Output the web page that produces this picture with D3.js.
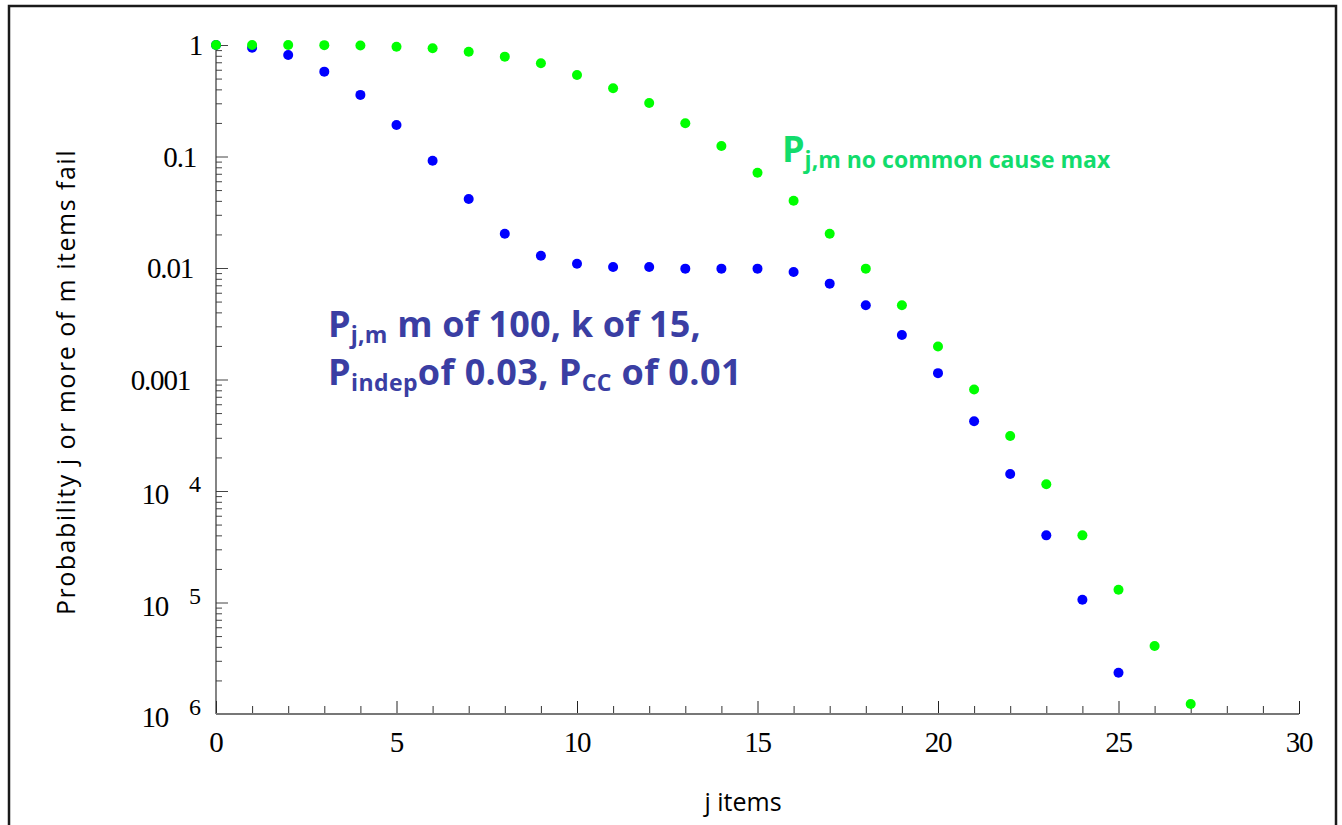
<!DOCTYPE html>
<html>
<head>
<meta charset="utf-8">
<script src="https://cdn.jsdelivr.net/npm/d3@7"></script>
<style>
  body { margin: 0; background: #fff; }
  svg { display: block; }
  .domain { display: none; }
</style>
</head>
<body>
<svg id="chart"></svg>
<script>
/** * * * * * DATA * * * * */
// j = number of failed items
const jBlue = [0, 1, 2, 3, 4, 5, 6, 7, 8, 9, 10, 11, 12, 13, 14, 15, 16, 17, 18, 19, 20, 21, 22, 23, 24, 25];
const pCommonCause = [1, 0.946, 0.814, 0.577, 0.357, 0.192, 0.0915, 0.0415, 0.0203, 0.0129, 0.0109,
  0.0102, 0.0102, 0.00987, 0.00987, 0.00987, 0.00922, 0.00724, 0.00463, 0.00251, 0.00114,
  0.000423, 0.000142, 4.0e-5, 1.06e-5, 2.34e-6];

const jGreen = [0, 1, 2, 3, 4, 5, 6, 7, 8, 9, 10, 11, 12, 13, 14, 15, 16, 17, 18, 19, 20, 21, 22, 23, 24, 25, 26, 27];
const pNoCommonCause = [1, 1, 0.999, 0.997, 0.99, 0.966, 0.934, 0.871, 0.786, 0.686, 0.539,
  0.410, 0.302, 0.199, 0.124, 0.0714, 0.0401, 0.0203, 0.00987, 0.00463, 0.00198,
  0.000814, 0.000311, 0.000115, 4.0e-5, 1.30e-5, 4.07e-6, 1.23e-6];

const xTicks = [0, 5, 10, 15, 20, 25, 30];
const xMinorTicks = [1, 2, 3, 4, 6, 7, 8, 9, 11, 12, 13, 14, 16, 17, 18, 19, 21, 22, 23, 24, 26, 27, 28, 29];
const yTicks = [1, 0.1, 0.01, 0.001, 1e-4, 1e-5, 1e-6];
const yTickMain = ['1', '0.1', '0.01', '0.001', '10', '10', '10'];
const yTickSup = ['', '', '', '', '4', '5', '6'];

/** * * * * * CONSTANTS * * * * */
const width = 1342;
const height = 825;
const plot = { left: 216, right: 1299, top: 45, bottom: 714 };
const serif = '"Liberation Serif", "Times New Roman", serif';
const sans = '"Open Sans", "Noto Sans", sans-serif';
const blueText = '#3a3ea3';
const greenText = '#12dc6c';

const svg = d3.select('#chart')
  .attr('width', width)
  .attr('height', height);

// outer frame
svg.append('rect')
  .attr('x', 9)
  .attr('y', 6)
  .attr('width', 1327)
  .attr('height', 900)
  .attr('fill', 'none')
  .attr('stroke', '#1a1a1a')
  .attr('stroke-width', 2.5);

// scales
let x = d3.scaleLinear().domain([0, 30]).range([plot.left, plot.right]);
let y = d3.scaleLog().domain([1e-6, 1]).range([plot.bottom, plot.top]);

let yMinor = [];
yTicks.slice(0, -1).forEach(function(t) {
  for (let k = 2; k <= 9; k++) yMinor.push(t * k / 10);
});

// axes: ticks point inwards
svg.append('g')
  .attr('transform', `translate(${plot.left},0)`)
  .call(d3.axisRight(y).tickValues(yTicks).tickSize(12).tickFormat(''))
  .selectAll('line').attr('stroke', '#444');
svg.append('g')
  .attr('transform', `translate(${plot.left},0)`)
  .call(d3.axisRight(y).tickValues(yMinor).tickSize(6).tickFormat(''))
  .selectAll('line').attr('stroke', '#444');

svg.append('g')
  .attr('transform', `translate(0,${plot.bottom})`)
  .call(d3.axisTop(x).tickValues(xTicks).tickSize(13).tickFormat(''))
  .selectAll('line').attr('stroke', '#222');
svg.append('g')
  .attr('transform', `translate(0,${plot.bottom})`)
  .call(d3.axisTop(x).tickValues(xMinorTicks).tickSize(8).tickFormat(''))
  .selectAll('line').attr('stroke', '#333');

// axis lines
svg.append('line')
  .attr('x1', plot.left).attr('x2', plot.left)
  .attr('y1', y(1)).attr('y2', y(1e-6))
  .attr('stroke', '#333').attr('stroke-width', 1.2);
svg.append('line')
  .attr('x1', plot.left).attr('x2', x(30))
  .attr('y1', plot.bottom).attr('y2', plot.bottom)
  .attr('stroke', '#777').attr('stroke-width', 2);

// y tick labels
yTicks.forEach(function(t, i) {
  if (yTickSup[i] === '') {
    svg.append('text')
      .attr('x', 205 - 3 * yTickMain[i].length)
      .attr('y', y(t) + 10)
      .attr('text-anchor', 'end')
      .style('font-family', serif)
      .style('font-size', '29px')
      .style('letter-spacing', '-1.2px')
      .text(yTickMain[i]);
  } else {
    svg.append('text')
      .attr('x', 168)
      .attr('y', y(t) + 13)
      .attr('text-anchor', 'end')
      .style('font-family', serif)
      .style('font-size', '29px')
      .style('letter-spacing', '-1.2px')
      .text(yTickMain[i]);
    svg.append('text')
      .attr('x', 189)
      .attr('y', y(t) + 1)
      .style('font-family', serif)
      .style('font-size', '24px')
      .text(yTickSup[i]);
  }
});

// x tick labels
svg.selectAll('.xlabel')
  .data(xTicks)
  .enter()
  .append('text')
  .attr('class', 'xlabel')
  .attr('x', function(d) { return x(d); })
  .attr('y', 752)
  .attr('text-anchor', 'middle')
  .style('font-family', serif)
  .style('font-size', '29px')
  .style('letter-spacing', '-1.2px')
  .text(function(d) { return d; });

// axis titles
svg.append('text')
  .attr('x', 743)
  .attr('y', 811)
  .attr('text-anchor', 'middle')
  .style('font-family', sans)
  .style('font-size', '25px')
  .text('j items');
svg.append('text')
  .attr('transform', 'translate(75,382) rotate(-90)')
  .attr('text-anchor', 'middle')
  .style('font-family', sans)
  .style('font-size', '25px')
  .style('letter-spacing', '1.5px')
  .text('Probability j or more of m items fail');

// points
svg.selectAll('.blue')
  .data(jBlue)
  .enter()
  .append('circle')
  .attr('class', 'blue')
  .attr('cx', function(d) { return x(d); })
  .attr('cy', function(d, i) { return y(pCommonCause[i]); })
  .attr('r', 5)
  .attr('fill', '#0000ff');

svg.selectAll('.green')
  .data(jGreen)
  .enter()
  .append('circle')
  .attr('class', 'green')
  .attr('cx', function(d) { return x(d); })
  .attr('cy', function(d, i) { return y(pNoCommonCause[i]); })
  .attr('r', 5)
  .attr('fill', '#00ff00');

// annotations
let note1 = svg.append('text')
  .attr('x', 328).attr('y', 337)
  .style('font-family', sans).style('font-weight', 'bold')
  .style('font-size', '36px').style('letter-spacing', '0.2px')
  .attr('fill', blueText);
note1.append('tspan').text('P');
note1.append('tspan').attr('dy', 6).style('font-size', '23px').text('j,m');
note1.append('tspan').attr('dy', -6).text(' m of 100, k of 15,');

let note2 = svg.append('text')
  .attr('x', 328).attr('y', 385)
  .style('font-family', sans).style('font-weight', 'bold')
  .style('font-size', '36px').style('letter-spacing', '0.4px')
  .attr('fill', blueText);
note2.append('tspan').text('P');
note2.append('tspan').attr('dy', 6).style('font-size', '23px').text('indep');
note2.append('tspan').attr('dy', -6).text('of 0.03, P');
note2.append('tspan').attr('dy', 6).style('font-size', '23px').text('CC');
note2.append('tspan').attr('dy', -6).text(' of 0.01');

let note3 = svg.append('text')
  .attr('x', 782).attr('y', 162)
  .style('font-family', sans).style('font-weight', 'bold')
  .style('font-size', '36px').attr('fill', greenText);
note3.append('tspan').text('P');
note3.append('tspan').attr('dy', 6).style('font-size', '23px').text('j,m no common cause max');
</script>
</body>
</html>
